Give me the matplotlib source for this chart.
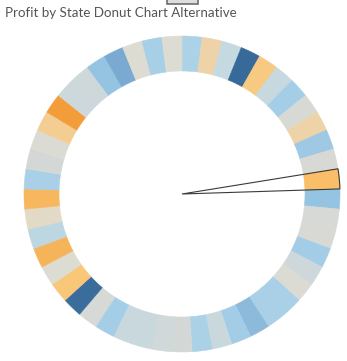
import numpy as np
import matplotlib
matplotlib.use("Agg")
from matplotlib import pyplot as plt
from matplotlib.patches import Wedge, Rectangle
from matplotlib.colors import to_rgb, to_hex

# states in alphabetical order, each takes one equal slice of the ring
states = ["Alabama", "Arizona", "Arkansas", "California", "Colorado", "Connecticut",
          "Delaware", "District of Columbia", "Florida", "Georgia", "Idaho", "Illinois",
          "Indiana", "Iowa", "Kansas", "Kentucky", "Louisiana", "Maine", "Maryland",
          "Massachusetts", "Michigan", "Minnesota", "Mississippi", "Missouri", "Montana",
          "Nebraska", "Nevada", "New Hampshire", "New Jersey", "New Mexico", "New York",
          "North Carolina", "North Dakota", "Ohio", "Oklahoma", "Oregon", "Pennsylvania",
          "Rhode Island", "South Carolina", "South Dakota", "Tennessee", "Texas", "Utah",
          "Vermont", "Virginia", "Washington", "West Virginia", "Wisconsin", "Wyoming"]
profit = [5787, -3428, 4009, 76381, -6528, 3511, 9977, 1060, -3399, 16250, 827, -12608,
          18383, 1184, 836, 11200, 2196, 454, 7031, 6786, 24463, 10823, 3172, 6436, 1833,
          2037, 3317, 3161, 9773, 1157, 74039, -7491, 230, -16971, 4854, -1190, -15560,
          7286, 1769, 395, -5342, -25729, 2547, 2245, 18598, 33403, 186, 8402, 100]
highlight = "Illinois"

# orange-blue diverging colour scale: profit stops and their colours
scale_stops = [-25729, -16971, -12608, -7000, -5342, -3400, -1190, 0, 500, 830,
               1170, 1800, 2200, 3200, 4000, 4854, 5800, 7000, 10000, 16250,
               18400, 24463, 33403, 76381]
scale_colors = ["#F29D3A", "#F6B45A", "#F9BE67", "#F9C87A", "#F4CD92", "#EED3A9",
                "#E3D9C7", "#DDDCD3", "#DCDBD3", "#D8D9D4", "#D6D9D5", "#D3D8D6",
                "#CED8DB", "#C9D8DD", "#C5D9E0", "#BCD6E2", "#ABD2E6", "#A9D0E6",
                "#A4CEE7", "#9EC8E4", "#95C4E2", "#8DB9DA", "#7AAAD2", "#376A99"]


def profit_color(value):
    rgb = np.array([to_rgb(c) for c in scale_colors])
    return to_hex([np.interp(value, scale_stops, rgb[:, i]) for i in range(3)])


# ring centre (pixels from top-left) and radii
cx, cy = 182, 194
r_out, r_width = 158, 35

fig = plt.figure(figsize=(3.47, 3.61), dpi=100)
ax = fig.add_axes([0, 0, 1, 1])

colors = [profit_color(p) for p in profit]
wedges, _ = ax.pie([1] * len(states), colors=colors, startangle=90, counterclock=False,
                   radius=r_out, center=(0, 0),
                   wedgeprops=dict(width=r_width, linewidth=0.4))
for w in wedges:
    w.set_edgecolor(w.get_facecolor())

# outline the selected state as a full slice from the centre
sel = wedges[states.index(highlight)]
ax.add_patch(Wedge((0, 0), r_out, sel.theta1, sel.theta2, facecolor="none",
                   edgecolor="#3a3a3a", linewidth=0.8, zorder=5))

ax.set_xlim(-cx, 347 - cx)
ax.set_ylim(-(361 - cy), cy)
ax.set_aspect("equal")
ax.axis("off")

fig.text(5 / 347, 1 - 17 / 361, "Profit by State Donut Chart Alternative",
         ha="left", va="baseline", fontsize=9.6, family="Lato", color="#555555")

# small grip tab cut off at the top edge
fig.patches.append(Rectangle((167 / 347, 1 - 4 / 361), 31 / 347, 8 / 361,
                             transform=fig.transFigure, facecolor="#dddddd",
                             edgecolor="#6e6e6e", linewidth=1.2))

fig.savefig("out.png", dpi=100)
